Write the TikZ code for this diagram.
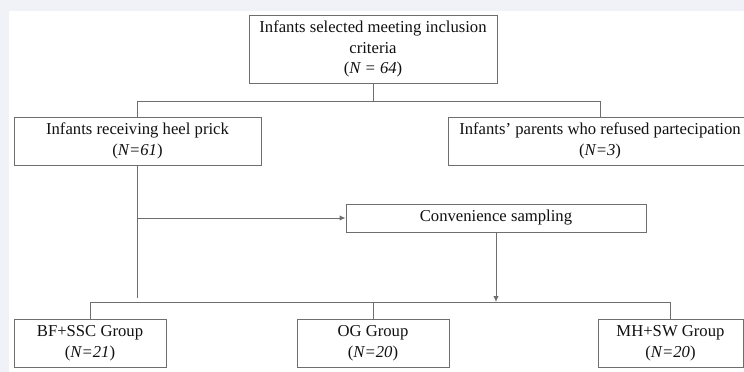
\documentclass[tikz,border=0pt]{standalone}
\usepackage{fontspec}
\setmainfont{Liberation Serif}
\usetikzlibrary{arrows.meta}
\definecolor{pagebg}{HTML}{F0F2F8}
\definecolor{linec}{HTML}{6E6E6E}
\definecolor{txtc}{HTML}{111111}
\begin{document}
\begin{tikzpicture}[x=0.75pt,y=-0.75pt,
  box/.style={draw=linec, line width=0.7pt, fill=white, text=txtc, align=center, inner sep=0pt,
    font=\fontsize{12.5}{15.5}\selectfont},
  conn/.style={draw=linec, line width=0.7pt},
  arr/.style={conn, -{Latex[length=4.5pt,width=4pt]}}]
\clip (0,0) rectangle (744,372);
\fill[pagebg] (0,0) rectangle (744,372);
\fill[white] (9,11) rectangle (744,372);

\node[box, minimum width=186pt, minimum height=51pt] (top) at (373,49)
  {Infants selected meeting inclusion\\criteria\\(\textit{N = 64})};
\node[box, minimum width=185.25pt, minimum height=36pt] (heel) at (137.5,141)
  {Infants receiving heel prick\\(\textit{N=61})};
\node[box, minimum width=228pt, minimum height=36pt] (refused) at (600,141)
  {Infants’ parents who refused partecipation\\(\textit{N=3})};
\node[box, minimum width=225pt, minimum height=21pt] (conv) at (496,218)
  {Convenience sampling};
\node[box, minimum width=114pt, minimum height=36pt] (bf) at (90,343)
  {BF+SSC Group\\(\textit{N=21})};
\node[box, minimum width=114pt, minimum height=36pt] (og) at (373,343)
  {OG Group\\(\textit{N=20})};
\node[box, minimum width=108.75pt, minimum height=36pt] (mh) at (670.5,343)
  {MH+SW Group\\(\textit{N=20})};

\coordinate (split1) at (373,101);
\coordinate (split2) at (496,302);
\coordinate (heelend) at (137.5,298);

\draw[conn] (top.south) -- (split1);
\draw[conn] (heel.north) -- (heel.north |- split1) -- (refused.north |- split1) -- (refused.north);
\draw[conn] (heel.south) -- (heelend);
\draw[arr] (heel.south |- conv.west) -- (conv.west);
\draw[arr] (conv.south) -- (split2);
\draw[conn] (bf.north) -- (bf.north |- split2) -- (mh.north |- split2) -- (mh.north);
\draw[conn] (og.north) -- (og.north |- split2);
\end{tikzpicture}
\end{document}
